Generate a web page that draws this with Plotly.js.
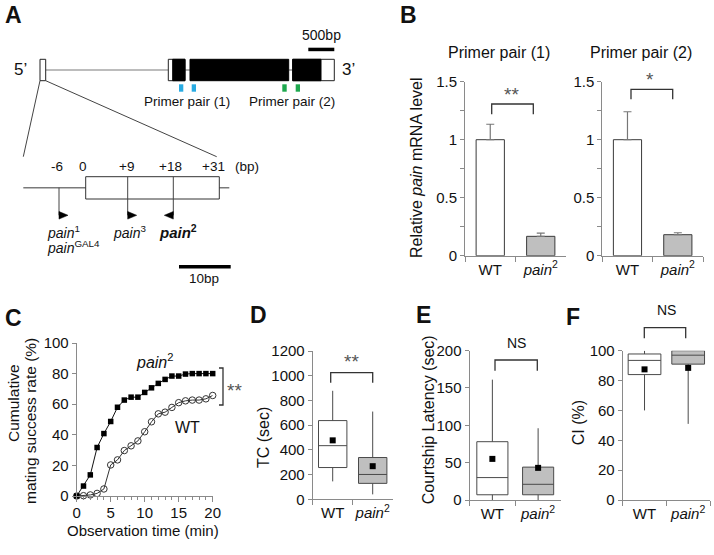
<!DOCTYPE html>
<html><head><meta charset="utf-8">
<script src="https://cdn.plot.ly/plotly-3.0.1.min.js"></script>
<style>html,body{margin:0;padding:0;background:#fff}</style>
</head><body><div id="chart" style="width:714px;height:555px"></div>
<script>
// ---------------- data ----------------
const groups = ['WT', 'pain2'];
const groupLabels = ['WT', '<i>pain</i><sup>2</sup>'];
// Panel B: relative pain mRNA level
const primer1Mean = [1.0, 0.167];
const primer1Err = [0.133, 0.027];
const primer2Mean = [1.0, 0.181];
const primer2Err = [0.241, 0.017];
// Panel C: cumulative mating success rate (%)
const timeMin = [0, 1, 2, 3, 4, 5, 6, 7, 8, 9, 10, 11, 12, 13, 14, 15, 16, 17, 18, 19, 20];
const matingPain2 = [0, 6.5, 13.8, 31.7, 40.8, 48.7, 58, 62.7, 64.6, 64.6, 67.7, 70.7, 73.6, 76.2, 78.4, 78.4, 79.7, 80, 80, 80, 80];
const matingWT = [0, 0.2, 0.7, 1.7, 4.6, 20.3, 23.6, 29.7, 32.8, 36, 42, 48.5, 53.7, 54.8, 57.9, 61, 62.2, 62.7, 62.7, 63.5, 65.7];
// Panel D: TC (sec) box statistics [WT, pain2]
const tcLow = [145, 40];
const tcQ1 = [257, 129];
const tcMedian = [434, 201];
const tcQ3 = [637, 338];
const tcHigh = [878, 710];
const tcMean = [477, 268];
// Panel E: courtship latency (sec)
const latLow = [0, 0];
const latQ1 = [7, 7];
const latMedian = [30, 21];
const latQ3 = [78, 44];
const latHigh = [161, 96];
const latMean = [55, 43];
// Panel F: CI (%)
const ciLow = [60, 51];
const ciQ1 = [84, 91];
const ciMedian = [93.5, 97];
const ciQ3 = [97.8, 100];
const ciHigh = [100, 100];
const ciMean = [87.5, 88.5];

// ---------------- helpers ----------------
const W = 714, H = 555;
const px = x => x / W;
const py = y => 1 - y / H;
const FONT = 'Liberation Sans, Arial, sans-serif';
const AXC = '#8a8a8a';
const TXT = '#111';
const STAR = {family: FONT, size: 19, color: '#555'};

function xdom(a, b) { return [px(a), px(b)]; }
function ydom(top, bottom) { return [py(bottom), py(top)]; }

function baseAxis(extra) {
  return Object.assign({
    showline: true, linecolor: AXC, linewidth: 1,
    ticks: 'outside', tickcolor: AXC, ticklen: 4, tickwidth: 1,
    showgrid: false, zeroline: false, fixedrange: true,
    tickfont: {family: FONT, size: 15, color: TXT}
  }, extra);
}
function catAxis(dom, anchor) {
  return baseAxis({domain: dom, anchor: anchor, type: 'category', range: [-0.5, 1.5], tickangle: 0,
    tickmode: 'array', tickvals: groups, ticktext: groupLabels, tickson: 'boundaries', ticklen: 5});
}

const shapes = [];
const annotations = [];
function rect(x0, y0, x1, y1, fill, lc, lw) {
  shapes.push({type: 'rect', xref: 'paper', yref: 'paper', x0: px(x0), x1: px(x1), y0: py(y1), y1: py(y0),
    fillcolor: fill, line: {color: lc || fill, width: lw === undefined ? 0 : lw}, layer: 'above'});
}
function line(x0, y0, x1, y1, c, w) {
  shapes.push({type: 'line', xref: 'paper', yref: 'paper', x0: px(x0), x1: px(x1), y0: py(y0), y1: py(y1),
    line: {color: c, width: w}, layer: 'above'});
}
function path(pts, fill, lc, lw, closed) {
  let d = pts.map((p, i) => (i ? 'L' : 'M') + px(p[0]).toFixed(5) + ',' + py(p[1]).toFixed(5)).join(' ');
  if (closed) d += ' Z';
  shapes.push({type: 'path', xref: 'paper', yref: 'paper', path: d,
    fillcolor: fill || 'rgba(0,0,0,0)', line: {color: lc, width: lw}, layer: 'above'});
}
function bracket(x0, x1, top, bottom) {
  path([[x0, bottom], [x0, top], [x1, top], [x1, bottom]], null, '#333', 1.3, false);
}
function ann(text, x, y, size, opts) {
  annotations.push(Object.assign({text: text, x: px(x), y: py(y), xref: 'paper', yref: 'paper',
    showarrow: false, xanchor: 'center', yanchor: 'middle',
    font: {family: FONT, size: size, color: TXT}}, opts || {}));
}

// ---------------- panel A (schematic) ----------------
const gray = '#7a7a7a';
line(45.7, 70, 168.3, 70, gray, 1.2);
line(185, 70, 190, 70, gray, 1.2);
line(288.7, 70, 292.7, 70, gray, 1.2);
rect(40, 59.3, 45.7, 80.7, '#fff', '#222', 1);
rect(168.3, 59.3, 185, 80.7, '#fff', '#222', 1);
rect(172.7, 59.3, 185, 80.7, '#000', '#000', 1);
rect(190, 59.3, 288.7, 80.7, '#000', '#000', 1);
rect(292.7, 59.3, 334.3, 80.7, '#fff', '#222', 1);
rect(292.7, 59.3, 321, 80.7, '#000', '#000', 1);
rect(179, 84.3, 183.3, 91.7, '#29abe2');
rect(191.7, 84.3, 196, 91.7, '#29abe2');
rect(282.3, 84.3, 286.7, 91.7, '#1ea84e');
rect(295.7, 84.3, 300, 91.7, '#1ea84e');
rect(308.3, 47.7, 334.3, 51.2, '#000');
line(40, 80.7, 23.3, 156.7, '#444', 1);
line(45.7, 80.7, 216.7, 156.7, '#444', 1);
// zoomed region
line(23.3, 187.7, 229.3, 187.7, gray, 1.5);
rect(85.7, 176.7, 219.3, 199, '#fff', '#333', 1);
line(59, 187.7, 59, 215.3, '#444', 1);
line(127.7, 176.7, 127.7, 215.3, '#444', 1);
line(173.3, 176.7, 173.3, 215.3, '#444', 1);
path([[59, 211.5], [68, 215.3], [59, 219.1]], '#000', '#000', 0.5, true);
path([[127.7, 211.5], [136.7, 215.3], [127.7, 219.1]], '#000', '#000', 0.5, true);
path([[173.3, 211.5], [164.3, 215.3], [173.3, 219.1]], '#000', '#000', 0.5, true);
rect(179, 265, 230.7, 268.5, '#000');

ann('5\u2019', 20, 69, 17);
ann('3\u2019', 348, 69, 17);
ann('500bp', 321.7, 35, 14);
ann('Primer pair (1)', 186.7, 101, 13.5);
ann('Primer pair (2)', 291.7, 101, 13.5);
ann('-6', 57.3, 166, 13.5);
ann('0', 82.7, 166, 13.5);
ann('+9', 126.7, 166, 13.5);
ann('+18', 170.7, 166, 13.5);
ann('+31', 213.3, 166, 13.5);
ann('(bp)', 246.7, 166, 13.5);
ann('<i>pain</i><sup>1</sup>', 45, 231.7, 14, {xanchor: 'left'});
ann('<i>pain</i><sup>GAL4</sup>', 45, 247, 14, {xanchor: 'left'});
ann('<i>pain</i><sup>3</sup>', 111, 231.7, 14, {xanchor: 'left'});
ann('<b><i>pain</i><sup>2</sup></b>', 156.7, 231.7, 15, {xanchor: 'left'});
ann('10bp', 204, 278.3, 13.5);

// panel letters
[['A', 13, 15], ['B', 408, 15], ['C', 13, 318], ['D', 258, 315], ['E', 423, 315], ['F', 573, 317]]
  .forEach(a => ann('<b>' + a[0] + '</b>', a[1], a[2], 23));

// ---------------- panel B ----------------
ann('Primer pair (1)', 499, 52, 16);
ann('Primer pair (2)', 641, 52, 16);
ann('Relative <i>pain</i> mRNA level', 416, 168, 16, {textangle: -90});
bracket(491.7, 533.3, 104, 114.3);
ann('**', 511.7, 94, 19, {font: STAR});
bracket(631, 672.7, 89.3, 99.3);
ann('*', 650, 79, 19, {font: STAR});

// ---------------- panel C ----------------
ann('Cumulative', 13, 403, 15.5, {textangle: -90});
ann('mating success rate (%)', 30, 421, 15.5, {textangle: -90});
ann('Observation time (min)', 143, 530, 15);
ann('<i>pain</i><sup>2</sup>', 154, 361, 16);
ann('WT', 187, 427, 16);
path([[219, 368], [223, 368], [223, 405], [219, 405]], null, '#333', 1.3, false);
ann('**', 234, 390, 19, {font: STAR});

// ---------------- panels D E F ----------------
ann('TC (sec)', 263, 438, 16, {textangle: -90});
bracket(330.7, 372.7, 372.7, 382.7);
ann('**', 351.7, 361, 19, {font: STAR});
ann('Courtship Latency (sec)', 428.3, 420, 16, {textangle: -90});
bracket(495, 537.3, 360, 370.7);
ann('NS', 516.7, 343, 14);
ann('CI (%)', 578.3, 423, 16, {textangle: -90});
bracket(644.3, 685.7, 327.7, 338.3);
ann('NS', 666.7, 310, 14);

// ---------------- traces ----------------
const traces = [];
function bars(means, errs, xa, ya) {
  traces.push({type: 'bar', x: groups, y: means, xaxis: xa, yaxis: ya, width: 0.56,
    marker: {color: ['#ffffff', '#bfbfbf'], line: {color: '#3a3a3a', width: 1}},
    error_y: {type: 'data', array: errs, arrayminus: [0, 0], symmetric: false, color: '#777', thickness: 1.2, width: 4},
    hoverinfo: 'skip', showlegend: false});
}
bars(primer1Mean, primer1Err, 'x', 'y');
bars(primer2Mean, primer2Err, 'x2', 'y2');

traces.push({type: 'scatter', mode: 'lines+markers', x: timeMin, y: matingWT, xaxis: 'x3', yaxis: 'y3',
  line: {color: '#333', width: 1}, marker: {symbol: 'circle-open', size: 6.5, color: '#333', line: {width: 1}},
  cliponaxis: false, showlegend: false, hoverinfo: 'skip'});
traces.push({type: 'scatter', mode: 'lines+markers', x: timeMin, y: matingPain2, xaxis: 'x3', yaxis: 'y3',
  line: {color: '#111', width: 1}, marker: {symbol: 'square', size: 5.5, color: '#000'},
  cliponaxis: false, showlegend: false, hoverinfo: 'skip'});

function boxes(low, q1, med, q3, high, mean, xa, ya, w) {
  const fills = ['#ffffff', '#bfbfbf'];
  for (let i = 0; i < 2; i++) {
    traces.push({type: 'box', x: [groups[i]], q1: [q1[i]], median: [med[i]], q3: [q3[i]],
      lowerfence: [low[i]], upperfence: [high[i]], xaxis: xa, yaxis: ya, width: w,
      fillcolor: fills[i], line: {color: '#4a4a4a', width: 1}, whiskerwidth: 0,
      boxpoints: false, showlegend: false, hoverinfo: 'skip'});
  }
  traces.push({type: 'scatter', mode: 'markers', x: groups, y: mean, xaxis: xa, yaxis: ya,
    marker: {symbol: 'square', size: 6, color: '#000'}, showlegend: false, hoverinfo: 'skip', cliponaxis: false});
}
boxes(tcLow, tcQ1, tcMedian, tcQ3, tcHigh, tcMean, 'x4', 'y4', 0.71);
boxes(latLow, latQ1, latMedian, latQ3, latHigh, latMean, 'x5', 'y5', 0.68);
boxes(ciLow, ciQ1, ciMedian, ciQ3, ciHigh, ciMean, 'x6', 'y6', 0.75);

// ---------------- layout ----------------
const bTicks = {range: [0, 1.5], tickvals: [0, 0.5, 1, 1.5], ticktext: ['0', '0.5', '1', '1.5'],
  minor: {tickmode: 'linear', tick0: 0, dtick: 0.25, ticks: 'outside', ticklen: 4, tickcolor: AXC}};
const layout = {
  width: W, height: H, margin: {l: 0, r: 0, t: 0, b: 0},
  paper_bgcolor: '#fff', plot_bgcolor: 'rgba(0,0,0,0)',
  showlegend: false, boxmode: 'overlay', barmode: 'overlay',
  font: {family: FONT, color: TXT},
  xaxis: catAxis(xdom(465, 566), 'y'),
  yaxis: baseAxis(Object.assign({domain: ydom(81.7, 255.7), anchor: 'x'}, bTicks)),
  xaxis2: catAxis(xdom(602.3, 703), 'y2'),
  yaxis2: baseAxis(Object.assign({domain: ydom(81.7, 255.7), anchor: 'x2'}, bTicks)),
  xaxis3: baseAxis({domain: xdom(76.7, 212.7), anchor: 'y3', range: [0, 20], tickmode: 'linear', tick0: 0, dtick: 5, ticklen: 5,
    ticklabelstandoff: -2,
    minor: {tickmode: 'linear', tick0: 0, dtick: 1, ticks: 'outside', ticklen: 3, tickcolor: AXC}}),
  yaxis3: baseAxis({domain: ydom(343, 496), anchor: 'x3', range: [0, 100], tickmode: 'linear', tick0: 0, dtick: 20}),
  xaxis4: catAxis(xdom(312.7, 392.7), 'y4'),
  yaxis4: baseAxis({domain: ydom(351, 499.3), anchor: 'x4', range: [0, 1200], tickmode: 'linear', tick0: 0, dtick: 200}),
  xaxis5: catAxis(xdom(469.5, 561), 'y5'),
  yaxis5: baseAxis({domain: ydom(350.5, 500), anchor: 'x5', range: [0, 200], tickmode: 'linear', tick0: 0, dtick: 50}),
  xaxis6: catAxis(xdom(622.7, 710), 'y6'),
  yaxis6: baseAxis({domain: ydom(350.7, 500), anchor: 'x6', range: [0, 100], tickmode: 'linear', tick0: 0, dtick: 20}),
  shapes: shapes,
  annotations: annotations
};

Plotly.newPlot('chart', traces, layout, {staticPlot: true, displayModeBar: false});
</script>
</body></html>
